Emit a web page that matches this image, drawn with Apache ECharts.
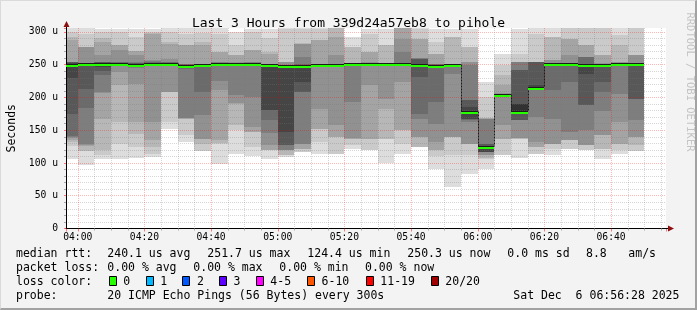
<!DOCTYPE html>
<html>
<head>
<meta charset="utf-8">
<script src="https://cdn.jsdelivr.net/npm/echarts@6.0.0/dist/echarts.min.js"></script>
<style>
html,body{margin:0;padding:0;background:#f3f3f3;}
#wrap{position:relative;width:697px;height:310px;overflow:hidden;}
#chart{position:absolute;left:0;top:0;width:697px;height:310px;}
#frame{position:absolute;left:0;top:0;width:697px;height:310px;box-sizing:border-box;border-top:1px solid #dadada;border-left:1px solid #dadada;border-right:2px solid #a2a2a2;border-bottom:2px solid #a2a2a2;pointer-events:none;}
</style>
</head>
<body>
<div id="wrap"><div id="chart"></div><div id="frame"></div></div>
<script>
// ---------------- data ----------------
const titleText = 'Last 3 Hours from 339d24a57eb8 to pihole';
const axisStart = '03:56:28';
const axisEnd = '06:56:28';
const stepMinutes = 5;

// end time of each 5-minute RRD step
const intervalEnd = ['04:00','04:05','04:10','04:15','04:20','04:25','04:30','04:35','04:40','04:45',
  '04:50','04:55','05:00','05:05','05:10','05:15','05:20','05:25','05:30','05:35',
  '05:40','05:45','05:50','05:55','06:00','06:05','06:10','06:15','06:20','06:25',
  '06:30','06:35','06:40','06:45','06:50'];

// median rtt (microseconds) per step
const medianRtt = [249, 250.5, 251.7, 251.5, 250, 251.5, 251.5, 248.5, 250, 250.6,
  250.6, 250.6, 249.6, 247.6, 248.6, 250, 250, 251, 250.6, 251,
  251, 249.6, 248.6, 250, 178, 124.4, 204.3, 178.4, 215, 251,
  251, 250, 250, 251, 250.3];

// the 20 ping rtts (microseconds) of each step, read from the smoke
const pings = [
  [105.6,126,132,135,138,140,141,175,230,246,250,253,254,254,254,254,287,292,300,315],
  [96.4,118,118.5,126,127,129.5,184,213.5,247.6,249,250.5,251,251,251.5,251.7,277,277,277.5,297.5,306],
  [106.6,112,119.3,167.7,207.2,208,233.8,240,247,250,252,253,253.5,254,254.2,264.4,284.7,290,300,305],
  [105.6,129.5,162.6,218.6,239,249,249.5,250,251,251.5,252,252.5,253,253.5,254,272,279.6,280,300,305],
  [107.6,125,144.8,162.6,221,245,247,248,249,249.5,250.5,251,252,253,254.2,264.4,270.5,271,292.4,305],
  [109.2,114,124.4,134.6,162.6,249,249.5,250,250.5,251,251.5,252,253,254,255,256.7,297.5,298,300,305],
  [152.4,162.6,208.4,208.5,208.6,249,249.5,250,250.5,251,251.5,252,253,253.5,254,259.3,282.2,285,300,306],
  [132,142.2,167.7,167.8,167.9,168,244,245,246.6,248,249,249.5,250,250.5,251,251.7,279.6,280,297.5,306],
  [117.8,118,129.5,137.2,137.3,172.8,208.4,246.6,248,249,250.5,251,251.2,251.4,251.6,251.7,279.6,285,298,306],
  [99,129.5,131,134.6,211,225,248,249,249.5,250,251,251.5,252,253,253.5,254.2,269.2,270,297.5,306],
  [114.2,149.9,157.5,190.6,191,203.3,249,249.5,250,250.3,251,251.5,252,252.5,253,254,264.4,265,279.6,300],
  [110.7,124.4,147.3,147.4,155,200,249,249.5,250,250.3,251,251.5,252,253,253.5,254.2,272,272.5,300,305],
  [105.6,119.3,119.4,119.5,127,145,165.1,180.4,180.5,247.6,250,250.5,251,251.2,251.5,251.7,266.9,270,290,305],
  [109.2,111.7,112,119.3,119.4,119.5,127,127.1,147.3,246,248,248.5,249,249.5,250,254.2,254.3,254.4,305,310],
  [116.8,117,121.9,122,129.5,129.6,208.4,208.5,223.7,246.6,249,249.5,250,251.7,261.8,282.2,282.3,282.4,305,310],
  [114.2,132.1,152.4,152.5,182.9,247.6,248,248.5,249,249.5,250.5,251,251.2,251.4,251.6,251.7,287.3,287.4,305,310],
  [114.2,114.3,139.7,139.8,157.5,247.6,248,248.5,249,249.5,250.5,251,251.3,251.5,251.7,265,292.4,310,312,315],
  [121.9,127,137.2,137.3,137.4,193.1,249,249.5,250,250.5,251.2,251.4,251.6,251.8,252,252.2,252.4,277.1,277.2,292.4],
  [120.4,120.5,137.2,137.3,218.6,249,249.3,249.6,249.8,250,251,251.5,252,252.5,253,254,269.2,269.3,297.5,305],
  [100.5,137.2,137.3,182.9,198.2,249,249.5,250,250.3,250.6,251.2,251.5,251.8,252,252.3,252.6,253,279.6,279.7,305],
  [114.2,129.5,149.9,150,223.7,249,249.5,250,250.3,250.6,251.2,251.5,251.8,252,269.2,289.8,310,312,314,316],
  [124.4,124.5,124.6,139.7,139.8,167.7,175.3,231.3,246.6,248,250,250.5,259.3,259.4,259.5,259.6,289.8,289.9,305,310],
  [91.3,110,119.3,119.4,132.1,160,193.1,246.6,247.5,248,249,249.5,250,250.5,251,251.7,266.9,267,284.7,305],
  [63.4,111.7,139.7,139.8,139.9,236.4,247.6,248,248.8,249.5,250.5,250.8,251,251.2,251.4,251.6,251.7,292.4,292.5,305],
  [83.7,111.7,129.5,129.6,129.7,162.6,165,167.7,167.8,177,178.5,186,195.7,196,249.1,254.2,254.3,277.1,277.2,305],
  [91.3,106.6,107,111.7,112,116.8,117,117.2,117.5,122.9,125,126,129.5,129.6,167.7,167.8,167.9,168,200.8,223.7],
  [111.7,111.8,137.2,137.3,157.5,200.8,201,202,203,204,204.8,205,205.3,205.6,206,206.2,218.6,233.8,249.1,266.9],
  [108.2,137.2,137.3,137.4,137.5,165.1,165.2,165.3,175.3,177,190.6,190.7,241.5,241.6,254.2,254.3,254.4,254.5,266.9,305],
  [114.2,114.3,124.4,124.5,132.1,170,213.5,213.6,213.8,214,215.5,218.6,254.2,254.3,254.4,254.5,254.6,254.7,297.5,307],
  [112.7,121.9,129.5,129.6,129.7,167.7,211,249.1,249.5,250,251.5,252,252.2,252.4,252.6,256.7,256.8,292.4,292.5,307.6],
  [120.9,121,134.6,134.7,134.8,147.3,223.7,249.1,249.6,250,251.5,252,252.3,252.6,253,264.4,289.8,289.9,310,312],
  [119.3,119.4,127,127.1,127.2,149.9,188,188.1,236.4,249.1,250.5,250.8,251,261.8,261.9,262,279.6,279.7,310,312],
  [106.6,121.9,122,142.2,142.3,180,208.4,223.7,249.1,249.5,250.5,250.8,251,251.3,251.6,252,264.4,264.5,310,312],
  [114.2,119.3,129.5,129.6,162.6,205.9,249.1,249.5,250,250.5,251.5,251.7,252,252.5,253,253.5,254.2,279.6,295,310],
  [117.8,118,127,139.7,139.8,165.1,198.2,198.3,249.1,249.5,250.5,250.8,251,251.5,252,264.4,264.5,264.6,310,312]
];

const yMin = 0, yMax = 306, yStep = 50, yMinorSplit = 5;
const xStepMajor = 20, xMinorSplit = 4;

const lossLabels = ['0','1','2','3','4-5','6-10','11-19','20/20'];
const lossColors = ['#26ff00','#00b8ff','#0059ff','#5e00ff','#ff00ff','#ff5500','#ff0000','#a10000'];

const statsRtt = ['240.1 us avg','251.7 us max','124.4 us min','250.3 us now','0.0 ms sd','8.8','am/s'];
const statsLoss = ['0.00 % avg','0.00 % max','0.00 % min','0.00 % now'];
const probeText = '20 ICMP Echo Pings (56 Bytes) every 300s';
const dateText = 'Sat Dec  6 06:56:28 2025';
const watermark = 'RRDTOOL / TOBI OETIKER';

// ---------------- helpers ----------------
const MONO = '"DejaVu Sans Mono", "Liberation Mono", monospace';
const toMin = t => { const p = t.split(':').map(Number); return p[0]*60 + p[1] + (p[2]||0)/60; };
const pad = n => (n < 10 ? '0' : '') + n;
const fmtTime = v => { const h = Math.floor(v/60 + 1e-9); const m = Math.round(v - h*60); return pad(h) + ':' + pad(m); };
const X_MIN = toMin(axisStart), X_MAX = toMin(axisEnd);

const smokeData = pings.map((p, i) => {
  const e = toMin(intervalEnd[i]);
  return [e - stepMinutes, e].concat(p.slice().sort((a, b) => a - b));
});
const medianData = medianRtt.map((m, i) => {
  const e = toMin(intervalEnd[i]);
  return [e - stepMinutes, e, m, i > 0 ? medianRtt[i-1] : m];
});

function renderSmoke(params, api) {
  const s = Math.max(api.value(0), X_MIN), e = Math.min(api.value(1), X_MAX);
  const kids = [];
  for (let ib = 1; ib <= 10; ib++) {
    const lo = Math.min(api.value(1 + ib), yMax);
    const hi = Math.min(api.value(22 - ib), yMax);
    const a = api.coord([s, hi]), b = api.coord([e, lo]);
    const x0 = Math.round(a[0]), x1 = Math.round(b[0]);
    const y0 = Math.round(a[1]), y1 = Math.round(b[1]);
    if (y1 - y0 <= 0) continue;
    const c = Math.floor(190 / 10 * (10 - ib)) + 50;
    const hx = c.toString(16).padStart(2, '0');
    kids.push({type: 'rect', shape: {x: x0, y: y0, width: x1 - x0, height: y1 - y0},
      style: {fill: '#' + hx + hx + hx}});
  }
  return {type: 'group', children: kids};
}

function renderMedianDark(params, api) {
  const s = Math.max(api.value(0), X_MIN), e = api.value(1), m = api.value(2), pm = api.value(3);
  const a = api.coord([s, m]), b = api.coord([e, m]), p = api.coord([s, pm]);
  const y = Math.round(a[1]) - 0.5;
  const yp = Math.round(p[1]) - 0.5;
  const x0 = Math.round(a[0]), x1 = Math.round(b[0]);
  const kids = [{type: 'line', shape: {x1: x0, y1: y, x2: x1, y2: y}, style: {stroke: '#1a1a1a', lineWidth: 1}}];
  if (Math.abs(yp - y) > 1) {
    kids.push({type: 'line', shape: {x1: x0 + 0.5, y1: Math.min(y, yp), x2: x0 + 0.5, y2: Math.max(y, yp)},
      style: {stroke: '#1a1a1a', lineWidth: 1, lineDash: [2, 1]}});
  }
  return {type: 'group', children: kids};
}

function renderMedianGreen(params, api) {
  const s = Math.max(api.value(0), X_MIN), e = api.value(1), m = api.value(2);
  const a = api.coord([s, m]), b = api.coord([e, m]);
  const y = Math.round(a[1]) + 1;
  return {type: 'line', shape: {x1: Math.round(a[0]), y1: y, x2: Math.round(b[0]), y2: y},
    style: {stroke: lossColors[0], lineWidth: 2}};
}

// ---------------- legend graphics ----------------
const LEG_FONT = '11.5px ' + MONO;
function txt(text, x, y, extra) {
  return Object.assign({type: 'text', x: x, y: y, silent: true,
    style: {text: text, font: LEG_FONT, fill: '#000', verticalAlign: 'middle', align: 'left'}}, extra || {});
}
const rttX = [107.3, 207.3, 307.3, 407.3, 507.3, 586, 628.3];
const lossX = [107.3, 193.3, 279.3, 365];
const boxX = [108.7, 145.7, 182.3, 219, 255.7, 307, 365.7, 430.7];
const graphics = [];
graphics.push(txt('median rtt:', 16, 254));
statsRtt.forEach((t, i) => graphics.push(txt(t, rttX[i], 254)));
graphics.push(txt('packet loss:', 16, 268.3));
statsLoss.forEach((t, i) => graphics.push(txt(t, lossX[i], 268.3)));
graphics.push(txt('loss color:', 16, 282.3));
lossLabels.forEach((l, i) => {
  graphics.push({type: 'rect', silent: true, shape: {x: Math.round(boxX[i]) + 0.5, y: 276.5, width: 7, height: 9},
    style: {fill: lossColors[i], stroke: '#000', lineWidth: 1}});
  graphics.push(txt(l, boxX[i] + 14.6, 282.3));
});
graphics.push(txt('probe:', 16, 296));
graphics.push(txt(probeText, 107.3, 296));
graphics.push(txt(dateText, 513.3, 296));
// watermark
graphics.push({type: 'text', x: 690, y: 82, rotation: -Math.PI / 2, silent: true,
  style: {text: watermark, font: '10.5px ' + MONO, fill: '#c4c4c4', align: 'center', verticalAlign: 'middle'}});
// axis arrows
graphics.push({type: 'polygon', silent: true, z: 10, shape: {points: [[63.5, 27], [69.5, 27], [66.5, 21]]}, style: {fill: '#8e0f0f'}});
graphics.push({type: 'line', silent: true, z: 10, shape: {x1: 66.5, y1: 27, x2: 66.5, y2: 28}, style: {stroke: '#000', lineWidth: 1}});
graphics.push({type: 'polygon', silent: true, z: 10, shape: {points: [[668, 225.5], [668, 231.5], [674, 228.5]]}, style: {fill: '#8e0f0f'}});
graphics.push({type: 'line', silent: true, z: 10, shape: {x1: 666, y1: 228.5, x2: 668, y2: 228.5}, style: {stroke: '#000', lineWidth: 1}});

// ---------------- chart ----------------
const chart = echarts.init(document.getElementById('chart'), null, {renderer: 'canvas'});
const majorGrid = {color: 'rgba(255,0,0,0.28)', type: [1, 1], width: 1};
const minorGrid = {color: 'rgba(120,120,120,0.3)', type: [1, 1], width: 1};
chart.setOption({
  backgroundColor: '#f3f3f3',
  animation: false,
  title: {text: titleText, left: 'center', top: 12,
    textStyle: {fontFamily: MONO, fontSize: 13, fontWeight: 'normal', color: '#000'}},
  grid: {left: 66, right: 31, top: 28, bottom: 81.5, show: true, backgroundColor: '#ffffff', borderWidth: 0,
    containLabel: false, outerBoundsMode: 'none'},
  xAxis: {
    type: 'value', min: X_MIN, max: X_MAX, minInterval: xStepMajor, maxInterval: xStepMajor, z: 3,
    axisLine: {show: true, onZero: false, lineStyle: {color: '#000', width: 1}},
    axisTick: {show: true, length: 3, lineStyle: {color: 'rgba(255,0,0,0.5)'}},
    minorTick: {show: true, splitNumber: xMinorSplit, length: 2, lineStyle: {color: '#a8a8a8'}},
    axisLabel: {formatter: fmtTime, fontFamily: MONO, fontSize: 9.7, color: '#000', margin: 4,
      showMinLabel: false, showMaxLabel: false},
    splitLine: {show: true, showMinLine: false, showMaxLine: false, lineStyle: majorGrid},
    minorSplitLine: {show: true, lineStyle: minorGrid}
  },
  yAxis: {
    type: 'value', min: yMin, max: yMax, minInterval: yStep, maxInterval: yStep, z: 3,
    name: 'Seconds', nameLocation: 'middle', nameRotate: 90, nameGap: 48,
    nameTextStyle: {fontFamily: MONO, fontSize: 11.5, color: '#000'},
    axisLine: {show: true, onZero: false, lineStyle: {color: '#000', width: 1}},
    axisTick: {show: true, length: 2, lineStyle: {color: 'rgba(255,0,0,0.5)'}},
    minorTick: {show: true, splitNumber: yMinorSplit, length: 2, lineStyle: {color: '#a8a8a8'}},
    axisLabel: {formatter: v => (v === 0 ? '0' : v + ' u'), fontFamily: MONO, fontSize: 9.7, color: '#000', margin: 8,
      showMaxLabel: false},
    splitLine: {show: true, showMinLine: false, showMaxLine: false, lineStyle: majorGrid},
    minorSplitLine: {show: true, lineStyle: minorGrid}
  },
  series: [
    {type: 'custom', name: 'smoke', z: 1, renderItem: renderSmoke, data: smokeData,
      encode: {x: [0, 1], y: [2, 21]}, silent: true},
    {type: 'custom', name: 'median-dark', z: 4, renderItem: renderMedianDark, data: medianData,
      encode: {x: [0, 1], y: [2]}, silent: true},
    {type: 'custom', name: 'median', z: 5, renderItem: renderMedianGreen, data: medianData,
      encode: {x: [0, 1], y: [2]}, silent: true}
  ],
  graphic: graphics
});
</script>
</body>
</html>
